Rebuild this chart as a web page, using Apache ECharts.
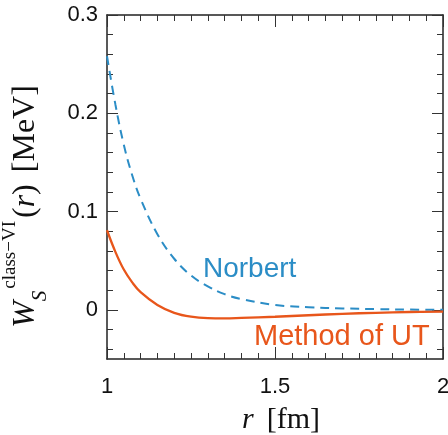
<!DOCTYPE html>
<html>
<head>
<meta charset="utf-8">
<script src="https://cdn.jsdelivr.net/npm/echarts@6/dist/echarts.min.js"></script>
<style>
  html, body { margin: 0; padding: 0; background: #fff; }
  #myChart { width: 448px; height: 435px; }
</style>
</head>
<body>
<div id="myChart"></div>
<script>
// r [fm]
const rValues = [1, 1.025, 1.05, 1.075, 1.1, 1.15, 1.2, 1.25, 1.3, 1.35, 1.4, 1.5, 1.6, 1.7, 1.8, 1.9, 2]
// W [MeV]
const norbert = [0.258, 0.209, 0.168, 0.137, 0.113, 0.077, 0.052, 0.035, 0.024, 0.016, 0.011, 0.005, 0.0027, 0.0015, 0.0008, 0.0003, 0.0]
const methodUT = [0.081, 0.059, 0.041, 0.028, 0.018, 0.005, -0.003, -0.007, -0.0085, -0.0087, -0.0082, -0.007, -0.0055, -0.004, -0.003, -0.0022, -0.0017]

// axis ranges and tick steps
const xRange = [1, 2]
const xMajor = 0.5
const xMinor = 0.05
const yRange = [-0.05, 0.3]
const yMajorRange = [0, 0.3]
const yMajor = 0.1
const yMinorRange = [-0.04, 0.28]
const yMinor = 0.02

const blue = '#2b8dc6'
const orange = '#e8561b'
const axisColor = '#222'
const serif = '"Liberation Serif", "Times New Roman", serif'
const sans = '"Liberation Sans", Arial, sans-serif'

// plot frame in pixels
const frame = { left: 107, right: 5, top: 15, bottom: 76, outerBoundsMode: 'none' }
const plotH = 435 - frame.top - frame.bottom
const pxPerUnit = plotH / (yRange[1] - yRange[0])

// helper grids so that each tick set starts at a multiple of its step
function subGrid (lo, hi) {
  return {
    left: frame.left,
    right: frame.right,
    top: frame.top + (yRange[1] - hi) * pxPerUnit,
    bottom: frame.bottom + (lo - yRange[0]) * pxPerUnit,
    outerBoundsMode: 'none'
  }
}

function pairs (xs, ys) {
  return xs.map((x, i) => [x, ys[i]])
}

const tickStyle = { color: '#333', width: 1 }
const labelStyle = { fontFamily: sans, fontSize: 22, color: '#111' }

const yTitle = {
  name: '{w|W}{s|S}{sup|class\u2212VI}{p|(}{w|r}{p|)}{gap| }{p|[MeV]}{end| }',
  nameLocation: 'middle',
  nameRotate: 90,
  nameGap: 56,
  nameTextStyle: {
    color: '#111',
    rich: {
      w: { fontFamily: serif, fontStyle: 'italic', fontSize: 32, lineHeight: 50, verticalAlign: 'middle', color: '#111' },
      p: { fontFamily: serif, fontSize: 32, lineHeight: 50, verticalAlign: 'middle', color: '#111' },
      s: { fontFamily: serif, fontStyle: 'italic', fontSize: 21, lineHeight: 21, verticalAlign: 'bottom', color: '#111', padding: [0, 2, 0, 0] },
      sup: { fontFamily: serif, fontSize: 19, lineHeight: 19, verticalAlign: 'top', color: '#111', padding: [0, 3, 0, 0] },
      gap: { width: 12, fontSize: 10 },
      end: { width: 39, fontSize: 10 }
    }
  }
}

const xTitle = {
  name: '{gap| }{i|r}{gap2| }{n|[fm]}',
  nameLocation: 'middle',
  nameGap: 46,
  nameTextStyle: {
    color: '#111',
    rich: {
      i: { fontFamily: serif, fontStyle: 'italic', fontSize: 30, lineHeight: 30, color: '#111' },
      n: { fontFamily: serif, fontSize: 30, lineHeight: 30, color: '#111' },
      gap: { width: 12, fontSize: 10 },
      gap2: { width: 13, fontSize: 10 }
    }
  }
}

function xAxisDef (pos, step, len, line, label, extra) {
  return Object.assign({
    type: 'value',
    gridIndex: 0,
    position: pos,
    min: xRange[0],
    max: xRange[1],
    interval: step,
    splitLine: { show: false },
    axisLine: { show: line, onZero: false, lineStyle: { color: axisColor, width: 1.5 } },
    axisTick: { show: true, inside: true, length: len, lineStyle: tickStyle },
    axisLabel: Object.assign({ show: label, margin: 17 }, labelStyle)
  }, extra || {})
}

function yAxisDef (grid, pos, range, step, len, line, label, extra) {
  return Object.assign({
    type: 'value',
    gridIndex: grid,
    position: pos,
    min: range[0],
    max: range[1],
    interval: step,
    splitLine: { show: false },
    axisLine: { show: line, onZero: false, lineStyle: { color: axisColor, width: 1.5 } },
    axisTick: { show: len > 0, inside: true, length: len, lineStyle: tickStyle },
    axisLabel: Object.assign({ show: label, margin: 9 }, labelStyle)
  }, extra || {})
}

function hiddenX (grid) {
  return { type: 'value', gridIndex: grid, min: xRange[0], max: xRange[1], show: false }
}

let myChart = echarts.init(document.getElementById('myChart'))
myChart.setOption({
  animation: false,
  grid: [
    frame,
    subGrid(yMajorRange[0], yMajorRange[1]),
    subGrid(yMinorRange[0], yMinorRange[1])
  ],
  xAxis: [
    xAxisDef('bottom', xMajor, 12, true, true, xTitle),
    xAxisDef('top', xMajor, 12, true, false),
    xAxisDef('bottom', xMinor, 6, false, false),
    xAxisDef('top', xMinor, 6, false, false),
    hiddenX(1),
    hiddenX(2)
  ],
  yAxis: [
    yAxisDef(0, 'left', yRange, 0.05, 0, true, false, yTitle),
    yAxisDef(0, 'right', yRange, 0.05, 0, true, false),
    yAxisDef(1, 'left', yMajorRange, yMajor, 11, false, true),
    yAxisDef(1, 'right', yMajorRange, yMajor, 11, false, false),
    yAxisDef(2, 'left', yMinorRange, yMinor, 6, false, false),
    yAxisDef(2, 'right', yMinorRange, yMinor, 6, false, false)
  ],
  series: [
    {
      name: 'Norbert',
      type: 'line',
      xAxisIndex: 0,
      yAxisIndex: 0,
      data: pairs(rValues, norbert),
      smooth: 0.4,
      showSymbol: false,
      lineStyle: { color: blue, width: 2, type: [9, 6] },
      z: 3
    },
    {
      name: 'Method of UT',
      type: 'line',
      xAxisIndex: 0,
      yAxisIndex: 0,
      data: pairs(rValues, methodUT),
      smooth: 0.4,
      showSymbol: false,
      lineStyle: { color: orange, width: 2.3 },
      z: 4
    }
  ],
  graphic: [
    {
      type: 'text',
      left: 203,
      top: 255,
      style: { text: 'Norbert', font: '28px ' + sans, fill: blue }
    },
    {
      type: 'text',
      left: 254,
      top: 322,
      style: { text: 'Method of UT', font: '29px ' + sans, fill: orange }
    }
  ]
})
</script>
</body>
</html>
